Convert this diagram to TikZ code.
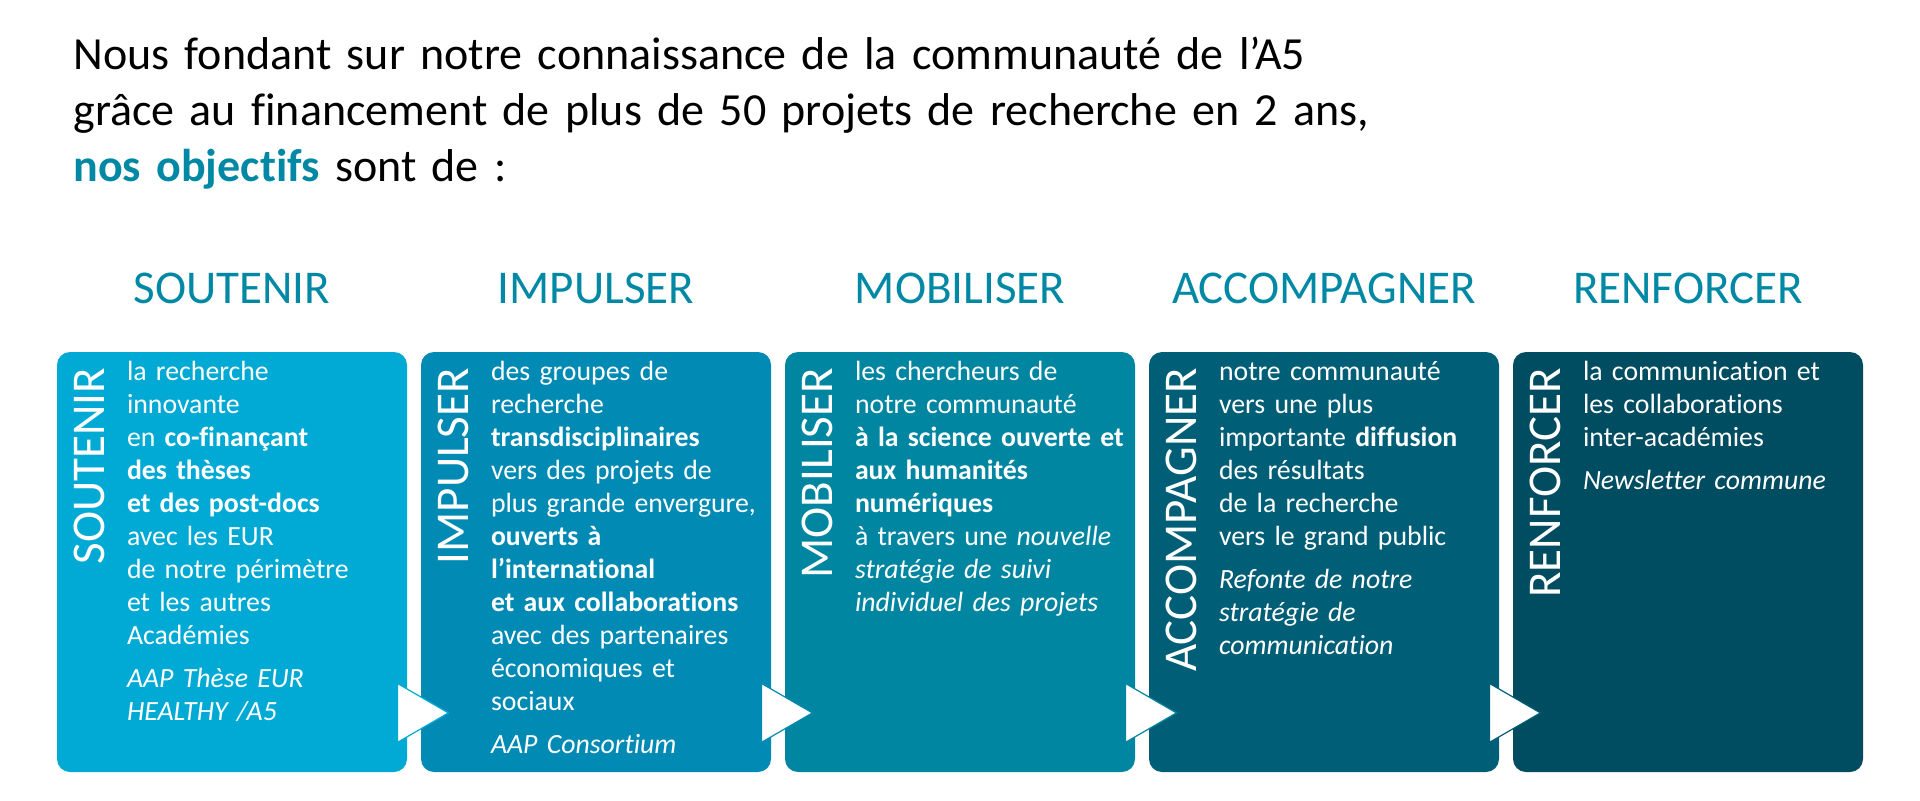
\documentclass[tikz,border=0pt]{standalone}
\usepackage{fontspec}
\setmainfont{Carlito}[Ligatures=NoCommon]
\usepackage{xcolor}
\usepackage{tikz}
\usetikzlibrary{calc}
\usetikzlibrary{positioning}

\definecolor{soutenir}{HTML}{00AAD4}
\definecolor{impulser}{HTML}{008AB4}
\definecolor{mobiliser}{HTML}{0086A0}
\definecolor{accompagner}{HTML}{005F77}
\definecolor{renforcer}{HTML}{004C60}
\definecolor{titre}{HTML}{0088A4}

\tikzset{
  objbox/.style={rounded corners=6.5pt, minimum width=175pt, minimum height=210pt, inner sep=0pt},
  titre/.style={anchor=base, inner sep=0pt, text=titre, font=\fontsize{23.5}{28}\selectfont},
  vlabel/.style={anchor=base east, rotate=90, inner sep=0pt, text=white, font=\fontsize{23.5}{28}\selectfont},
  corps/.style={anchor=base west, inner sep=0pt, text=white, text width=150pt, align=left, font=\fontsize{13.9}{16.5}\selectfont},
  pointe/.style={fill=white, line width=0.6pt, line join=miter}
}

\begin{document}
\begin{tikzpicture}[x=0.5pt,y=0.5pt]
\useasboundingbox (0,0) rectangle (1920,800);

% intro
\node[anchor=base west, inner sep=0pt, text width=800pt, align=left, font=\fontsize{23}{28}\selectfont] (intro) at (73,730)
  {Nous fondant sur notre connaissance de la communauté de l’A5\\
   grâce au financement de plus de 50 projets de recherche en 2 ans,\\
   {\bfseries\color{titre}nos objectifs} sont de :};

% the five boxes
\node[objbox, fill=soutenir] (b1) at (232,238) {};
\node[objbox, fill=impulser] (b2) at (596,238) {};
\node[objbox, fill=mobiliser] (b3) at (960,238) {};
\node[objbox, fill=accompagner] (b4) at (1324,238) {};
\node[objbox, fill=renforcer] (b5) at (1688,238) {};

% headings
\node[titre] (h1) at ([yshift=24pt]b1.north) {SOUTENIR};
\node[titre] (h2) at ([yshift=24pt]b2.north) {IMPULSER};
\node[titre] (h3) at ([yshift=24pt]b3.north) {MOBILISER};
\node[titre] (h4) at ([yshift=24pt]b4.north) {ACCOMPAGNER};
\node[titre] (h5) at ([yshift=24pt]b5.north) {RENFORCER};

% vertical labels
\node[vlabel] (v1) at ([shift={(24pt,-8pt)}]b1.north west) {SOUTENIR};
\node[vlabel] (v2) at ([shift={(24pt,-8pt)}]b2.north west) {IMPULSER};
\node[vlabel] (v3) at ([shift={(24pt,-8pt)}]b3.north west) {MOBILISER};
\node[vlabel] (v4) at ([shift={(24pt,-8pt)}]b4.north west) {ACCOMPAGNER};
\node[vlabel] (v5) at ([shift={(24pt,-8pt)}]b5.north west) {RENFORCER};

% texts
\node[corps] (t1) at ([shift={(35pt,-14.5pt)}]b1.north west)
  {la recherche\\ innovante\\ en \textbf{co-finançant}\\ \textbf{des thèses}\\ \textbf{et des post-docs}\\
   avec les EUR\\ de notre périmètre\\ et les autres\\ Académies\\[5pt]
   \textit{AAP Thèse EUR}\\ \textit{HEALTHY /A5}};
\node[corps] (t2) at ([shift={(35pt,-14.5pt)}]b2.north west)
  {des groupes de\\ recherche\\ \textbf{transdisciplinaires}\\ vers des projets de\\ plus grande envergure,\\
   \textbf{ouverts à}\\ \textbf{l’international}\\ \textbf{et aux collaborations}\\ avec des partenaires\\
   économiques et\\ sociaux\\[5pt] \textit{AAP Consortium}};
\node[corps] (t3) at ([shift={(35pt,-14.5pt)}]b3.north west)
  {les chercheurs de\\ notre communauté\\ \textbf{à la science ouverte et}\\ \textbf{aux humanités}\\ \textbf{numériques}\\
   à travers une \textit{nouvelle}\\ \textit{stratégie de suivi}\\ \textit{individuel des projets}};
\node[corps] (t4) at ([shift={(35pt,-14.5pt)}]b4.north west)
  {notre communauté\\ vers une plus\\ importante \textbf{diffusion}\\ des résultats\\ de la recherche\\
   vers le grand public\\[5pt] \textit{Refonte de notre}\\ \textit{stratégie de}\\ \textit{communication}};
\node[corps] (t5) at ([shift={(35pt,-14.5pt)}]b5.north west)
  {la communication et\\ les collaborations\\ inter-académies\\[5pt] \textit{Newsletter commune}};

% arrows between boxes
\draw[pointe, draw=soutenir] ([shift={(-5pt,15pt)}]b1.south east) -- ([shift={(-5pt,44.5pt)}]b1.south east)
  -- ([shift={(20.5pt,29.75pt)}]b1.south east) -- cycle;
\draw[pointe, draw=impulser] ([shift={(-5pt,15pt)}]b2.south east) -- ([shift={(-5pt,44.5pt)}]b2.south east)
  -- ([shift={(20.5pt,29.75pt)}]b2.south east) -- cycle;
\draw[pointe, draw=mobiliser] ([shift={(-5pt,15pt)}]b3.south east) -- ([shift={(-5pt,44.5pt)}]b3.south east)
  -- ([shift={(20.5pt,29.75pt)}]b3.south east) -- cycle;
\draw[pointe, draw=accompagner] ([shift={(-5pt,15pt)}]b4.south east) -- ([shift={(-5pt,44.5pt)}]b4.south east)
  -- ([shift={(20.5pt,29.75pt)}]b4.south east) -- cycle;
\end{tikzpicture}
\end{document}
